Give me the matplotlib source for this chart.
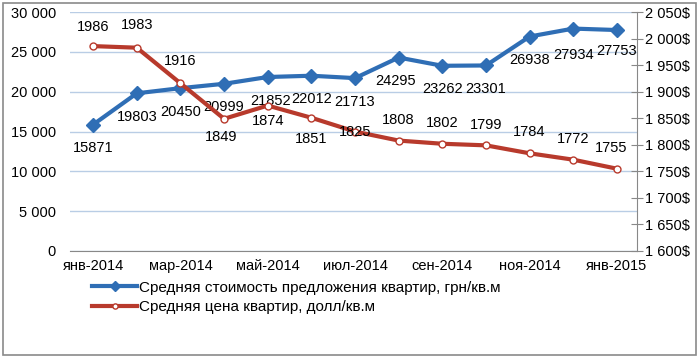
import matplotlib.pyplot as plt
from matplotlib.patches import Rectangle
from matplotlib.ticker import FuncFormatter

months = ["янв-2014", "фев-2014", "мар-2014", "апр-2014", "май-2014", "июн-2014",
          "июл-2014", "авг-2014", "сен-2014", "окт-2014", "ноя-2014", "дек-2014", "янв-2015"]
uah_price = [15871, 19803, 20450, 20999, 21852, 22012, 21713, 24295, 23262, 23301, 26938, 27934, 27753]
usd_price = [1986, 1983, 1916, 1849, 1874, 1851, 1825, 1808, 1802, 1799, 1784, 1772, 1755]

# label offsets in points (dx, dy)
uah_off = [(0, -17), (0, -17), (0, -17), (0, -17), (2, -17), (0, -17), (0, -17),
           (-2, -17), (0, -17), (0, -17), (0, -17), (0, -19), (0, -15)]
usd_off = [(0, 14), (0, 16), (0, 16), (-2, -13), (0, -11), (0, -15), (0, 0),
           (0, 15), (0, 15), (0, 15), (0, 15), (0, 15), (-4, 15)]

BLUE = "#2F6EB5"
RED = "#B83A2C"

plt.rcParams['font.family'] = ['Liberation Sans', 'DejaVu Sans']

fig = plt.figure(figsize=(7, 3.57), dpi=100)
fig.patches.append(Rectangle((0.004, 0.006), 0.99, 0.986, transform=fig.transFigure,
                             fill=False, edgecolor="#8a8a8a", linewidth=1.2))
ax = fig.add_axes([0.1, 0.297, 0.81, 0.669])
ax2 = ax.twinx()

x = list(range(len(months)))

ax.set_ylim(0, 30000)
ax.set_yticks(range(0, 30001, 5000))
ax.yaxis.set_major_formatter(FuncFormatter(lambda v, p: f"{int(v):,}".replace(",", " ")))
ax.grid(axis="y", color="#B9CDE5", linewidth=1)
ax.set_axisbelow(True)
ax.set_xlim(-0.53, 12.46)
ax.set_xticks(x[::2])
ax.set_xticklabels(months[::2])

ax2.set_ylim(1600, 2050)
ax2.set_yticks(range(1600, 2051, 50))
ax2.yaxis.set_major_formatter(FuncFormatter(lambda v, p: f"{int(v):,}".replace(",", " ") + "$"))

for a in (ax, ax2):
    for s in ("top", "left"):
        a.spines[s].set_visible(False)
ax.spines["right"].set_visible(False)
ax2.spines["bottom"].set_visible(False)
ax.spines["bottom"].set_color("#888888")
ax2.spines["right"].set_color("#888888")
ax.tick_params(axis="y", length=0, labelsize=10.5, pad=10)
ax.tick_params(axis="x", length=0, labelsize=10.5, pad=6)
ax2.tick_params(axis="y", direction="inout", length=8, color="#888888", labelsize=10.5, pad=2)

l1, = ax.plot(x, uah_price, color=BLUE, linewidth=3, marker="D", markersize=7,
              label="Средняя стоимость предложения квартир, грн/кв.м", zorder=3)
l2, = ax2.plot(x, usd_price, color=RED, linewidth=3, marker="o", markersize=5,
               markerfacecolor="white", markeredgecolor=RED, markeredgewidth=1,
               label="Средняя цена квартир, долл/кв.м", zorder=3)

for i, v in enumerate(uah_price):
    ax.annotate(str(v), (x[i], v), xytext=uah_off[i], textcoords="offset points",
                ha="center", va="center", fontsize=10.5, zorder=5)
for i, v in enumerate(usd_price):
    ax2.annotate(str(v), (x[i], v), xytext=usd_off[i], textcoords="offset points",
                 ha="center", va="center", fontsize=10.5, zorder=5)

fig.legend(handles=[l1, l2], loc="upper left", bbox_to_anchor=(0.12, 0.235),
           frameon=False, fontsize=11, handlelength=3, handletextpad=0.1,
           labelspacing=0.35, borderpad=0, markerscale=0.75)

fig.savefig("out.png", dpi=100)
